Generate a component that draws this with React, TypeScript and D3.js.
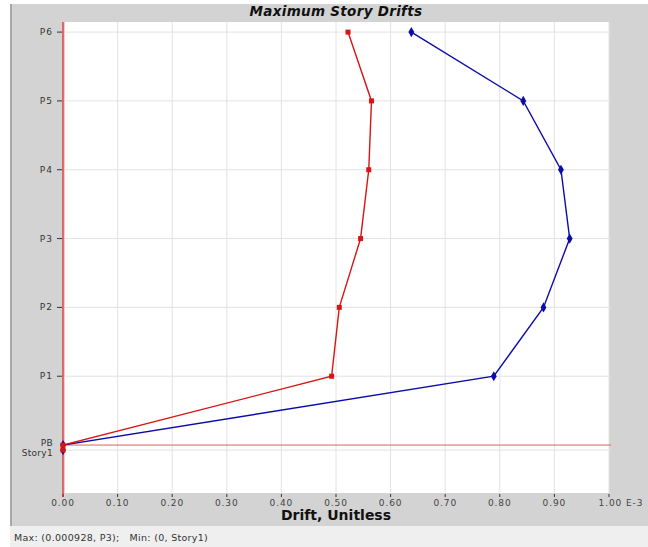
import React from "react";
import * as d3 from "d3";

const stories = ["Story1", "PB", "P1", "P2", "P3", "P4", "P5", "P6"];
const elevations = [0, 0.22, 3.22, 6.22, 9.22, 12.22, 15.22, 18.22];
const driftX = [0, 0, 0.492, 0.506, 0.545, 0.56, 0.565, 0.522];
const driftY = [0, 0, 0.789, 0.88, 0.928, 0.912, 0.843, 0.638];
const xTicks = [0, 0.1, 0.2, 0.3, 0.4, 0.5, 0.6, 0.7, 0.8, 0.9, 1.0];
const xTickLabels = ["0.00", "0.10", "0.20", "0.30", "0.40", "0.50", "0.60", "0.70", "0.80", "0.90", "1.00 E-3"];
const titleText = "Maximum Story Drifts";
const xAxisTitle = "Drift, Unitless";
const statusText = "Max: (0.000928, P3);   Min: (0, Story1)";

const W = 648;
const H = 547;
const plotL = 63, plotR = 609, plotT = 22, plotB = 493;

export default function App() {
  const x = d3.scaleLinear().domain([0, 1]).range([plotL, plotR]);
  const y = d3.scaleLinear().domain([-1.87, 18.66]).range([plotB, plotT]);
  const redPts = stories.map((s, i) => [x(driftX[i]), y(elevations[i])] as [number, number]);
  const bluePts = stories.map((s, i) => [x(driftY[i]), y(elevations[i])] as [number, number]);
  const line = d3.line();
  const font = "'DejaVu Sans', Verdana, sans-serif";
  const red = "#d81414";
  const blue = "#0c0ca8";
  const diamond = d3.symbol().type(d3.symbolDiamond).size(30)() as string;
  return (
    <svg width={W} height={H} style={{ position: "absolute", left: 0, top: 0 }}>
      <rect x={0} y={0} width={W} height={H} fill="#ffffff" />
      <rect x={10} y={4} width={W - 10} height={522} fill="#d3d3d3" />
      <rect x={10} y={4} width={2} height={522} fill="#a8a8a8" />
      <rect x={10} y={526} width={W - 10} height={21} fill="#efefef" />
      <rect x={plotL} y={plotT} width={plotR - plotL} height={plotB - plotT} fill="#ffffff" />
      {xTicks.map((t, i) => (
        <g key={"xg" + i}>
          <line x1={x(t)} x2={x(t)} y1={plotT} y2={plotB} stroke="#e2e2e2" strokeWidth={1} />
          <line x1={x(t)} x2={x(t)} y1={plotB + 1} y2={plotB + 4} stroke="#333" strokeWidth={1} />
          <text x={x(t) + (i === xTicks.length - 1 ? 12 : 0)} y={506} fontSize={9} fill="#444" textAnchor="middle" fontFamily={font} letterSpacing={0.9}>{xTickLabels[i]}</text>
        </g>
      ))}
      {stories.map((s, i) => (
        <g key={"yg" + i}>
          <line x1={plotL} x2={plotR + 2} y1={y(elevations[i])} y2={y(elevations[i])} stroke={s === "PB" ? "#e06060" : "#e2e2e2"} strokeWidth={1} />
          {s !== "PB" && s !== "Story1" && (
            <line x1={57} x2={62} y1={y(elevations[i])} y2={y(elevations[i])} stroke="#333" strokeWidth={1} />
          )}
          <text x={53} y={y(elevations[i]) + (s === "PB" ? 1 : s === "Story1" ? 6 : 3)} fontSize={9} fill="#333" textAnchor="end" fontFamily={font} letterSpacing={s === "PB" || s === "Story1" ? 0.3 : 1}>{s}</text>
        </g>
      ))}
      <line x1={plotL} x2={plotL} y1={plotT} y2={plotB + 4} stroke={red} strokeWidth={1.2} />
      <line x1={plotL + 1.5} x2={plotL + 1.5} y1={plotT} y2={plotB} stroke="#f4caca" strokeWidth={1} />
      <path d={line(bluePts) as string} fill="none" stroke={blue} strokeWidth={1.4} />
      {bluePts.map((p, i) => (
        <path key={"bm" + i} d={diamond} transform={`translate(${p[0]},${p[1]})`} fill={blue} />
      ))}
      <path d={line(redPts) as string} fill="none" stroke={red} strokeWidth={1.4} />
      {redPts.map((p, i) => (
        <rect key={"rm" + i} x={p[0] - 2.5} y={p[1] - 2.5} width={5} height={5} fill={red} />
      ))}
      <text x={(plotL + plotR) / 2} y={16} fontSize={13.5} fontWeight="bold" fontStyle="italic" textAnchor="middle" fontFamily={font} fill="#111" letterSpacing={0.3}>{titleText}</text>
      <text x={(plotL + plotR) / 2} y={520} fontSize={14} fontWeight="bold" textAnchor="middle" fontFamily={font} fill="#111">{xAxisTitle}</text>
      <text x={14} y={541} fontSize={9.5} fill="#333" fontFamily={font} style={{ whiteSpace: "pre" }} letterSpacing={0.3}>{statusText}</text>
    </svg>
  );
}
